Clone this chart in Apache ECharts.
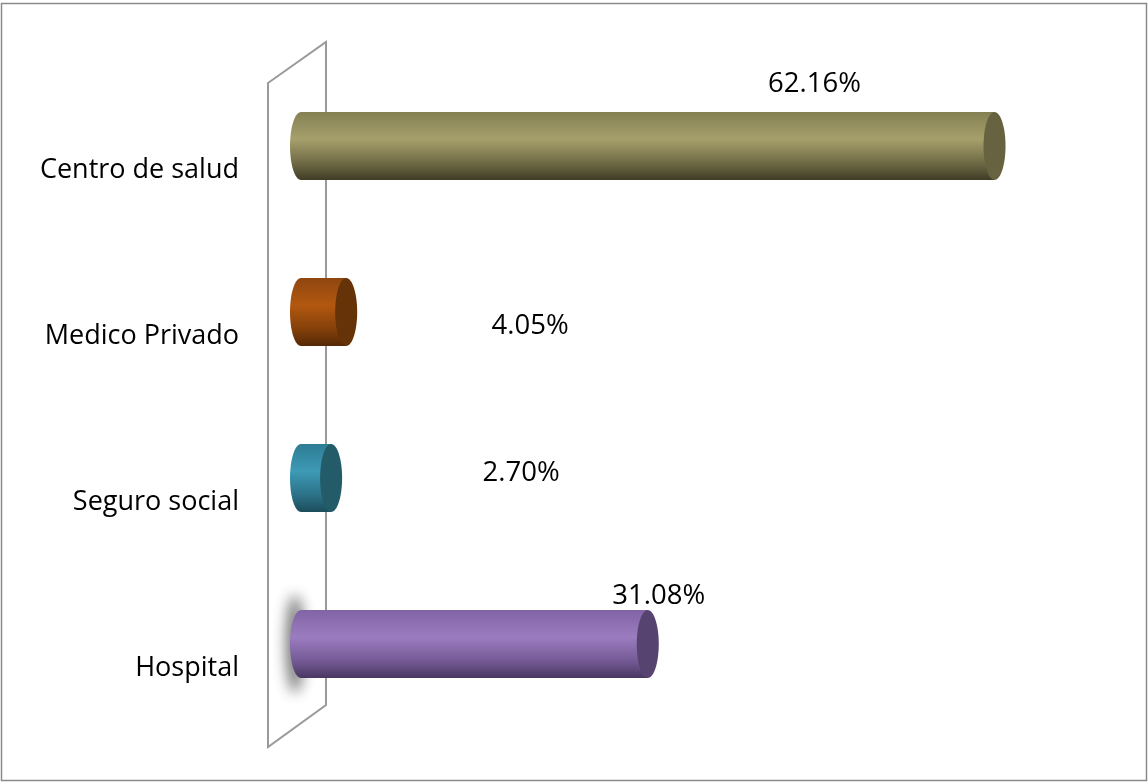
<!DOCTYPE html>
<html>
<head>
<meta charset="utf-8">
<script src="https://cdn.jsdelivr.net/npm/echarts@6/dist/echarts.min.js"></script>
<style>
  html, body { margin: 0; padding: 0; background: #fff; }
  #chart { width: 1148px; height: 782px; }
</style>
</head>
<body>
<div id="chart"></div>
<script>
// Lugar de atención: porcentaje de personas por tipo de establecimiento
const categories = ['Centro de salud', 'Medico Privado', 'Seguro social', 'Hospital'];
const values = [62.16, 4.05, 2.70, 31.08];

// Cylinder colours (body gradient stops + end cap), one per category
const bodyColors = [
  ['#858053', '#a6a06c', '#6f6a45', '#3f3c26'],
  ['#8f4610', '#b2580f', '#84400a', '#552805'],
  ['#2d7c94', '#3e9ab6', '#2b7187', '#1c4d5b'],
  ['#8064a5', '#9b7cc0', '#745a95', '#473761']
];
const capColors = ['#67623f', '#663208', '#235b69', '#56436f'];
// Value-label displacement from the end of each cylinder (px)
const labelShift = [[-180, -62], [184, 14], [190, -5], [11, -48]];
// Soft shadow cast on the back wall
const castShadow = [false, false, false, true];

const chart = echarts.init(document.getElementById('chart'), null, { renderer: 'canvas' });

function gradient(stops) {
  return new echarts.graphic.LinearGradient(0, 0, 0, 1, [
    { offset: 0, color: stops[0] },
    { offset: 0.4, color: stops[1] },
    { offset: 0.75, color: stops[2] },
    { offset: 1, color: stops[3] }
  ]);
}

function renderCylinder(params, api) {
  const i = params.dataIndex;
  const v = api.value(0);
  const cat = api.value(1);
  const p0 = api.coord([0, cat]);
  const p1 = api.coord([v, cat]);
  const band = api.size([0, 1])[1];
  const h = band * 0.41;
  const ry = h / 2;
  const rx = 11;
  const children = [];
  if (castShadow[i]) {
    children.push({
      type: 'ellipse',
      shape: { cx: p0[0] - 2000 - 6, cy: p0[1], rx: 9, ry: ry + 15 },
      style: {
        fill: '#999',
        shadowColor: 'rgba(100,100,100,0.9)',
        shadowBlur: 14,
        shadowOffsetX: 2000
      },
      silent: true
    });
  }
  children.push(
    {
      type: 'ellipse',
      shape: { cx: p0[0], cy: p0[1], rx: rx, ry: ry },
      style: { fill: gradient(bodyColors[i]) }
    },
    {
      type: 'rect',
      shape: { x: p0[0], y: p0[1] - ry, width: p1[0] - p0[0], height: h },
      style: { fill: gradient(bodyColors[i]) }
    },
    {
      type: 'ellipse',
      shape: { cx: p1[0], cy: p1[1], rx: rx, ry: ry },
      style: { fill: capColors[i] }
    },
    {
      type: 'text',
      x: p1[0] + labelShift[i][0],
      y: p1[1] + labelShift[i][1],
      style: {
        text: v.toFixed(2) + '%',
        fill: '#000',
        font: '27.5px "Open Sans"',
        align: 'center',
        verticalAlign: 'middle'
      }
    }
  );
  return { type: 'group', children: children };
}

chart.setOption({
  animation: false,
  backgroundColor: '#fff',
  grid: { left: 301, right: 66, top: 63, bottom: 55, containLabel: false },
  xAxis: { type: 'value', min: 0, max: 70, show: false },
  yAxis: {
    type: 'category',
    data: categories,
    inverse: true,
    axisLine: { show: false },
    axisTick: { show: false },
    splitLine: { show: false },
    axisLabel: {
      margin: 62,
      formatter: function (name) { return '{c|' + name + '}'; },
      rich: {
        c: {
          color: '#000',
          fontFamily: 'Open Sans',
          fontSize: 27,
          padding: [49, 0, 0, 0]
        }
      }
    }
  },
  graphic: [
    {
      type: 'rect',
      z: -10,
      shape: { x: 1.5, y: 3.5, width: 1145, height: 777 },
      style: { fill: 'none', stroke: '#8a8a8a', lineWidth: 1.5 }
    },
    {
      type: 'polygon',
      z: -10,
      shape: { points: [[268, 83], [326, 42], [326, 705], [268, 747]] },
      style: { fill: 'none', stroke: '#9a9a9a', lineWidth: 2 }
    }
  ],
  series: [{
    type: 'custom',
    coordinateSystem: 'cartesian2d',
    renderItem: renderCylinder,
    encode: { x: 0, y: 1 },
    data: values.map((v, i) => [v, i]),
    z: 5
  }]
});
</script>
</body>
</html>
